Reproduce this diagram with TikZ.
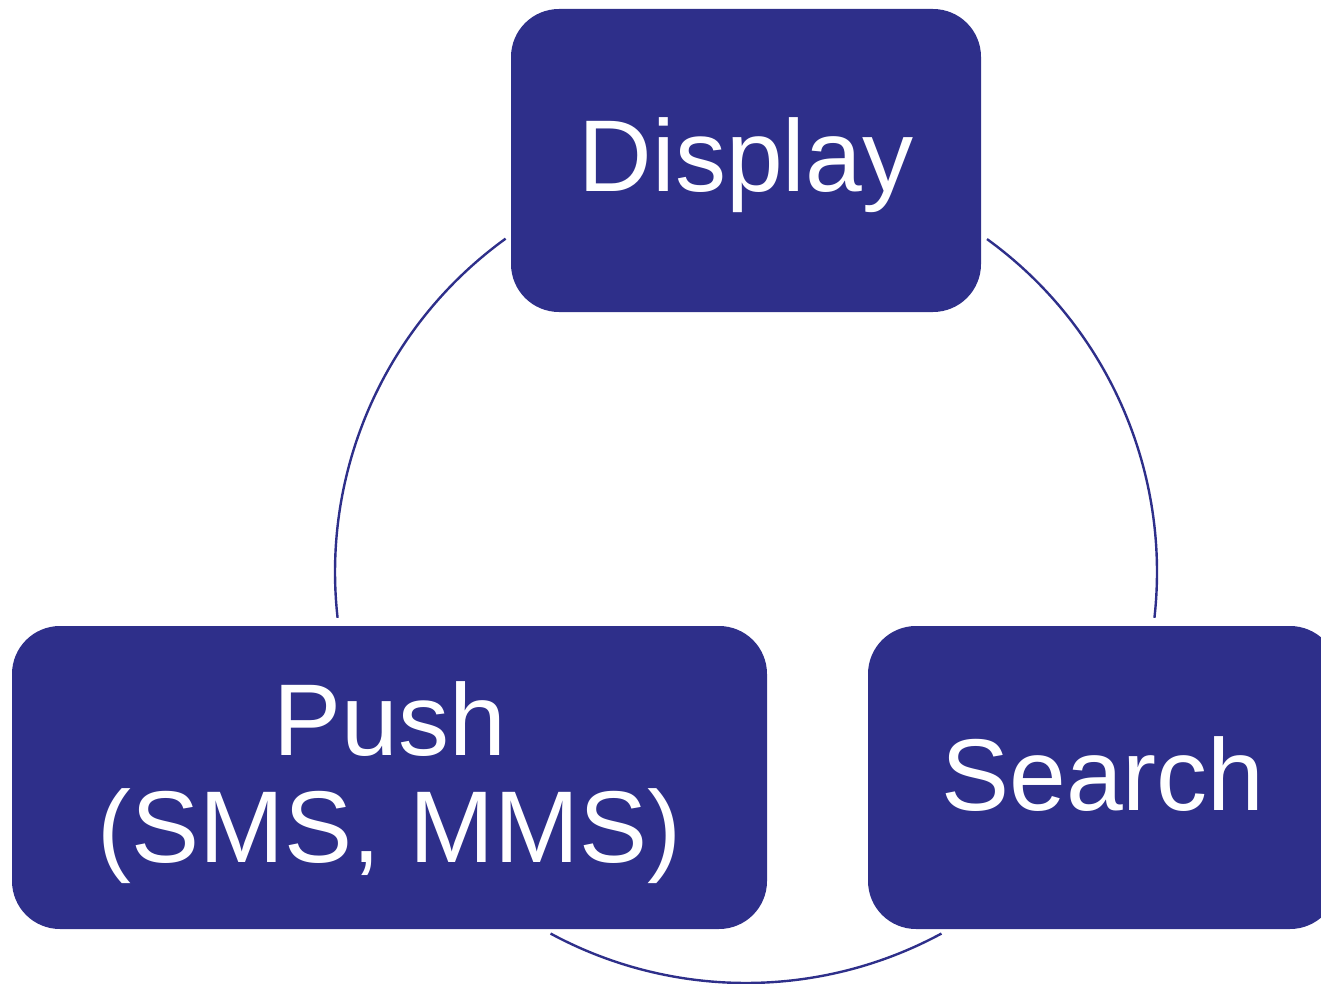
\documentclass[tikz,border=0pt]{standalone}
\usepackage{fontspec}
\setmainfont{Liberation Sans}
\definecolor{navy}{HTML}{2E2F8A}
\begin{document}
\begin{tikzpicture}[x=1pt,y=-1pt,
  box/.style={fill=navy,draw=none,rounded corners=48pt,inner sep=0pt,outer sep=0pt},
  lbl/.style={text=white,inner sep=0pt,anchor=base,font=\fontsize{102}{107}\selectfont},
  ring/.style={draw=navy,line width=2.4pt}]
\useasboundingbox (0,0) rectangle (1321,984);
% circle centre
\coordinate (c) at (746,572);
% arcs (drawn first, under boxes)
\draw[ring] (c) ++(125.8:411 and -411) arc[start angle=125.8,end angle=186.4,x radius=411,y radius=-411];
\draw[ring] (c) ++(54.1:411 and -411) arc[start angle=54.1,end angle=-6.4,x radius=411,y radius=-411];
\draw[ring] (c) ++(241.6:411 and -411) arc[start angle=241.6,end angle=298.4,x radius=411,y radius=-411];
% boxes
\path[box] (511,9) rectangle (981,312);
\node[inner sep=0pt] (display) at (746,160.5) {};
\path[box] (12,626) rectangle (767,929);
\node[inner sep=0pt] (push) at (389.5,777.5) {};
\path[box] (868,626) rectangle (1338,929);
\node[inner sep=0pt] (search) at (1103,777.5) {};
% labels
\node[lbl] (tdisplay) at (746,192) {Display};
\node[lbl] (tpush1) at (389.5,755) {Push};
\node[lbl] (tpush2) at (389.5,862) {(SMS, MMS)};
\node[lbl] (tsearch) at (1103,810) {Search};
\end{tikzpicture}
\end{document}
